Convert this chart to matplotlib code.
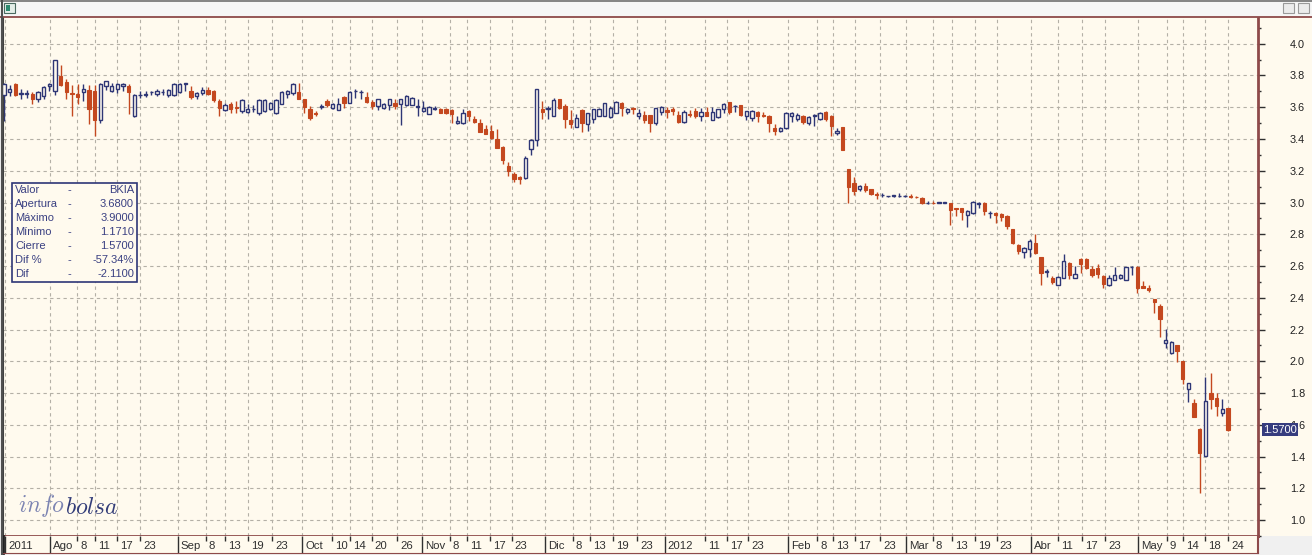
import matplotlib.pyplot as plt
from matplotlib.patches import Rectangle
import numpy as np

W, H = 1312, 555

open_ = [3.680, 3.695, 3.749, 3.686, 3.686, 3.684, 3.649, 3.670, 3.732, 3.701,
         3.799, 3.759, 3.690, 3.684, 3.697, 3.707, 3.701, 3.518, 3.736, 3.705,
         3.718, 3.732, 3.736, 3.545, 3.674, 3.680, 3.695, 3.684, 3.695, 3.680,
         3.674, 3.695, 3.749, 3.701, 3.670, 3.688, 3.711, 3.701, 3.639, 3.582,
         3.622, 3.598, 3.576, 3.572, 3.586, 3.566, 3.576, 3.586, 3.561, 3.622,
         3.686, 3.691, 3.697, 3.649, 3.586, 3.566, 3.603, 3.639, 3.597, 3.582,
         3.664, 3.628, 3.700, 3.695, 3.666, 3.632, 3.605, 3.597, 3.611, 3.628,
         3.618, 3.614, 3.614, 3.603, 3.576, 3.559, 3.591, 3.586, 3.586, 3.580,
         3.499, 3.499, 3.576, 3.524, 3.499, 3.461, 3.451, 3.403, 3.351, 3.232,
         3.180, 3.159, 3.153, 3.336, 3.395, 3.586, 3.591, 3.545, 3.649, 3.607,
         3.520, 3.478, 3.580, 3.493, 3.524, 3.545, 3.545, 3.539, 3.566, 3.628,
         3.570, 3.597, 3.545, 3.549, 3.549, 3.503, 3.568, 3.585, 3.589, 3.552,
         3.509, 3.560, 3.579, 3.543, 3.568, 3.522, 3.537, 3.589, 3.632, 3.605,
         3.615, 3.547, 3.531, 3.573, 3.554, 3.543, 3.467, 3.453, 3.467, 3.547,
         3.526, 3.543, 3.501, 3.546, 3.526, 3.568, 3.543, 3.438, 3.474, 3.211,
         3.126, 3.088, 3.101, 3.084, 3.053, 3.046, 3.038, 3.042, 3.040, 3.040,
         3.043, 3.037, 3.031, 2.996, 3.000, 2.997, 2.997, 2.996, 2.966, 2.965,
         2.924, 2.934, 2.992, 3.000, 2.932, 2.934, 2.928, 2.918, 2.835, 2.732,
         2.691, 2.707, 2.748, 2.656, 2.565, 2.526, 2.480, 2.522, 2.621, 2.526,
         2.645, 2.645, 2.579, 2.588, 2.538, 2.480, 2.511, 2.522, 2.511, 2.593,
         2.594, 2.476, 2.460, 2.395, 2.348, 2.118, 2.051, 2.101, 2.003, 1.828,
         1.740, 1.573, 1.401, 1.803, 1.766, 1.673, 1.703]

high = [3.753, 3.743, 3.753, 3.716, 3.707, 3.693, 3.701, 3.732, 3.753, 3.900,
        3.868, 3.778, 3.743, 3.749, 3.745, 3.743, 3.743, 3.753, 3.768, 3.753,
        3.753, 3.753, 3.749, 3.682, 3.701, 3.701, 3.701, 3.716, 3.716, 3.716,
        3.753, 3.753, 3.750, 3.732, 3.695, 3.726, 3.726, 3.707, 3.649, 3.628,
        3.632, 3.639, 3.649, 3.618, 3.611, 3.649, 3.649, 3.632, 3.649, 3.701,
        3.707, 3.753, 3.753, 3.651, 3.607, 3.576, 3.618, 3.649, 3.628, 3.659,
        3.670, 3.701, 3.716, 3.707, 3.695, 3.645, 3.653, 3.628, 3.653, 3.649,
        3.653, 3.674, 3.666, 3.649, 3.639, 3.607, 3.607, 3.597, 3.597, 3.591,
        3.545, 3.591, 3.580, 3.545, 3.528, 3.486, 3.486, 3.461, 3.357, 3.253,
        3.191, 3.170, 3.295, 3.399, 3.716, 3.639, 3.607, 3.659, 3.650, 3.618,
        3.580, 3.555, 3.586, 3.566, 3.591, 3.597, 3.628, 3.607, 3.639, 3.632,
        3.597, 3.601, 3.591, 3.576, 3.549, 3.597, 3.606, 3.600, 3.600, 3.579,
        3.585, 3.585, 3.594, 3.594, 3.600, 3.600, 3.592, 3.627, 3.632, 3.617,
        3.617, 3.578, 3.585, 3.579, 3.568, 3.552, 3.495, 3.474, 3.568, 3.568,
        3.564, 3.552, 3.543, 3.558, 3.568, 3.579, 3.552, 3.467, 3.474, 3.211,
        3.158, 3.109, 3.126, 3.088, 3.067, 3.059, 3.042, 3.046, 3.059, 3.050,
        3.054, 3.041, 3.033, 3.010, 3.010, 3.000, 3.000, 3.000, 2.966, 2.965,
        2.955, 3.012, 3.006, 3.006, 2.944, 2.938, 2.934, 2.924, 2.835, 2.738,
        2.718, 2.769, 2.800, 2.656, 2.584, 2.536, 2.538, 2.676, 2.625, 2.600,
        2.649, 2.649, 2.600, 2.614, 2.542, 2.542, 2.594, 2.553, 2.596, 2.600,
        2.600, 2.508, 2.480, 2.395, 2.359, 2.202, 2.126, 2.101, 2.003, 1.862,
        1.761, 1.583, 1.904, 1.929, 1.799, 1.761, 1.703]

low = [3.514, 3.670, 3.670, 3.649, 3.657, 3.618, 3.632, 3.649, 3.701, 3.680,
       3.732, 3.649, 3.545, 3.618, 3.639, 3.493, 3.416, 3.499, 3.711, 3.695,
       3.691, 3.701, 3.555, 3.541, 3.659, 3.664, 3.674, 3.670, 3.680, 3.664,
       3.670, 3.690, 3.701, 3.653, 3.649, 3.680, 3.680, 3.634, 3.545, 3.576,
       3.566, 3.566, 3.561, 3.566, 3.572, 3.549, 3.570, 3.582, 3.557, 3.622,
       3.659, 3.680, 3.649, 3.566, 3.520, 3.545, 3.586, 3.603, 3.591, 3.582,
       3.597, 3.624, 3.659, 3.649, 3.628, 3.591, 3.582, 3.591, 3.582, 3.591,
       3.486, 3.607, 3.611, 3.545, 3.570, 3.555, 3.582, 3.561, 3.555, 3.499,
       3.493, 3.493, 3.514, 3.499, 3.441, 3.430, 3.403, 3.341, 3.243, 3.170,
       3.128, 3.118, 3.149, 3.299, 3.353, 3.528, 3.528, 3.545, 3.590, 3.472,
       3.472, 3.478, 3.445, 3.451, 3.499, 3.545, 3.545, 3.534, 3.566, 3.545,
       3.555, 3.555, 3.524, 3.503, 3.445, 3.486, 3.552, 3.531, 3.552, 3.499,
       3.499, 3.537, 3.531, 3.516, 3.543, 3.522, 3.535, 3.564, 3.558, 3.573,
       3.548, 3.522, 3.516, 3.505, 3.537, 3.446, 3.425, 3.442, 3.460, 3.509,
       3.516, 3.495, 3.488, 3.480, 3.522, 3.516, 3.421, 3.425, 3.330, 3.000,
       3.046, 3.074, 3.067, 3.046, 3.025, 3.032, 3.032, 3.032, 3.032, 3.032,
       3.027, 3.027, 2.992, 2.992, 2.992, 2.994, 2.994, 2.856, 2.913, 2.893,
       2.847, 2.930, 2.965, 2.924, 2.903, 2.868, 2.882, 2.835, 2.738, 2.676,
       2.652, 2.656, 2.676, 2.480, 2.532, 2.485, 2.480, 2.522, 2.518, 2.526,
       2.557, 2.579, 2.532, 2.526, 2.464, 2.476, 2.511, 2.518, 2.511, 2.542,
       2.429, 2.460, 2.439, 2.302, 2.156, 2.086, 2.047, 1.996, 1.856, 1.745,
       1.652, 1.171, 1.401, 1.698, 1.657, 1.657, 1.562]

close = [3.749, 3.716, 3.680, 3.688, 3.688, 3.653, 3.697, 3.728, 3.747, 3.899,
         3.743, 3.697, 3.684, 3.664, 3.716, 3.591, 3.518, 3.747, 3.764, 3.736,
         3.749, 3.749, 3.695, 3.680, 3.675, 3.681, 3.696, 3.701, 3.696, 3.711,
         3.749, 3.749, 3.750, 3.666, 3.691, 3.711, 3.686, 3.645, 3.597, 3.611,
         3.586, 3.597, 3.645, 3.591, 3.587, 3.645, 3.645, 3.628, 3.645, 3.697,
         3.701, 3.749, 3.653, 3.601, 3.534, 3.555, 3.604, 3.611, 3.618, 3.622,
         3.628, 3.695, 3.701, 3.696, 3.632, 3.607, 3.649, 3.618, 3.649, 3.607,
         3.649, 3.670, 3.659, 3.604, 3.597, 3.603, 3.592, 3.566, 3.561, 3.555,
         3.514, 3.566, 3.545, 3.507, 3.445, 3.434, 3.409, 3.343, 3.270, 3.201,
         3.149, 3.149, 3.278, 3.395, 3.716, 3.572, 3.592, 3.645, 3.593, 3.524,
         3.493, 3.534, 3.503, 3.561, 3.586, 3.591, 3.624, 3.597, 3.634, 3.597,
         3.591, 3.586, 3.566, 3.520, 3.499, 3.593, 3.600, 3.568, 3.579, 3.505,
         3.568, 3.552, 3.547, 3.568, 3.547, 3.573, 3.589, 3.621, 3.568, 3.606,
         3.552, 3.577, 3.579, 3.547, 3.543, 3.501, 3.453, 3.467, 3.564, 3.564,
         3.552, 3.509, 3.537, 3.547, 3.564, 3.526, 3.484, 3.453, 3.333, 3.095,
         3.074, 3.105, 3.080, 3.053, 3.046, 3.047, 3.039, 3.043, 3.041, 3.041,
         3.033, 3.033, 2.996, 2.998, 2.996, 2.998, 2.998, 2.951, 2.961, 2.938,
         2.944, 3.002, 3.000, 2.944, 2.934, 2.924, 2.909, 2.852, 2.748, 2.697,
         2.713, 2.759, 2.682, 2.559, 2.567, 2.501, 2.532, 2.631, 2.542, 2.553,
         2.614, 2.588, 2.542, 2.553, 2.485, 2.526, 2.542, 2.546, 2.594, 2.594,
         2.460, 2.464, 2.452, 2.374, 2.265, 2.135, 2.122, 2.065, 1.887, 1.862,
         1.652, 1.422, 1.751, 1.761, 1.719, 1.698, 1.570]

month_labels = ['2011', 'Ago', 'Sep', 'Oct', 'Nov', 'Dic', '2012', 'Feb', 'Mar', 'Abr', 'May']
month_pos = [0.2, 8.1, 30.7, 52.6, 73.8, 95.5, 116.6, 138.3, 159.2, 181.2, 200.1]
day_labels = ['8', '11', '17', '23', '8', '13', '19', '23', '10', '14', '20', '26',
              '8', '11', '17', '23', '8', '13', '19', '23', '11', '17', '23',
              '8', '13', '17', '23', '8', '13', '19', '23', '11', '17', '23',
              '9', '14', '18', '24']
day_pos = [12.9, 16.1, 19.9, 24.0, 35.6, 39.0, 43.1, 47.3, 57.9, 61.1, 64.9, 69.4,
           78.7, 81.7, 85.8, 89.6, 100.4, 103.4, 107.5, 111.7, 123.7, 127.6, 131.3,
           143.5, 146.3, 150.2, 154.6, 163.9, 167.3, 171.4, 175.2, 186.0, 190.2, 194.3,
           205.2, 208.1, 211.9, 216.0]
ticker = 'BKIA'

cream = '#fffaee'
navy = '#2e3676'
red = '#c4481f'
frame = '#8e4a4a'

plt.rcParams['font.family'] = ['Liberation Sans', 'DejaVu Sans']
plt.rcParams['mathtext.fontset'] = 'cm'

fig = plt.figure(figsize=(W / 100, H / 100), dpi=100, facecolor='#f0f0f0')


def fx(x):
    return x / W


def fy(y):
    return 1 - y / H


# window background, title bar
fig.patches.append(Rectangle((fx(3), fy(536)), fx(W - 3), (536 - 17) / H,
                             transform=fig.transFigure, fc=cream, ec='none', zorder=-5))
fig.patches.append(Rectangle((0, fy(16)), 1, 16 / H, transform=fig.transFigure,
                             fc='#f6f6f6', ec='none', zorder=-5))
fig.add_artist(plt.Line2D([0, 1], [fy(0.5), fy(0.5)], color='#707070', lw=1.2))
fig.add_artist(plt.Line2D([0, 1], [fy(16.5), fy(16.5)], color=frame, lw=1.3))
fig.add_artist(plt.Line2D([fx(1.5), fx(1.5)], [0, 1], color='#505050', lw=1.5))
fig.patches.append(Rectangle((fx(4), fy(13)), 11 / W, 10 / H, transform=fig.transFigure,
                             fc='#e4eee8', ec='#4a6a60', lw=0.8))
fig.patches.append(Rectangle((fx(6), fy(11)), 4 / W, 6 / H, transform=fig.transFigure,
                             fc='#2e8a70', ec='none'))
for bx in [1283, 1298]:
    fig.patches.append(Rectangle((fx(bx), fy(13)), 11 / W, 10 / H, transform=fig.transFigure,
                                 fc='#ececec', ec='#9a9a9a', lw=0.8))

ax = fig.add_axes([fx(3), fy(536), (1258 - 3) / W, (536 - 18) / H])
ax.set_facecolor(cream)
ax.set_xlim(-0.18, 221.3)
ax.set_ylim(0.904, 4.162)

x = np.arange(len(close))
o = np.array(open_)
c = np.array(close)
hi = np.array(high)
lo = np.array(low)
up = c >= o
body = np.maximum(np.abs(c - o), 0.004)

ax.vlines(x[up], lo[up], hi[up], color=navy, lw=1, zorder=2)
ax.vlines(x[~up], lo[~up], hi[~up], color=red, lw=1, zorder=2)
ax.bar(x[up], body[up], bottom=o[up], width=0.6, facecolor=cream, edgecolor=navy,
       linewidth=1, zorder=3)
ax.bar(x[~up], body[~up], bottom=c[~up], width=0.6, facecolor=red, edgecolor=red,
       linewidth=0.8, zorder=3)

ax.set_xticks(month_pos + day_pos)
ax.tick_params(axis='x', length=0, labelbottom=False)
ax.yaxis.tick_right()
ax.set_yticks(np.arange(1.0, 4.01, 0.2))
ax.set_yticks(np.arange(0.9, 4.15, 0.1), minor=True)
ax.set_yticklabels(['%.1f' % v for v in np.arange(1.0, 4.01, 0.2)])
ax.tick_params(axis='y', which='major', direction='out', length=5, width=1,
               color='#303030', pad=18, labelsize=7.8, labelcolor='#202020')
ax.tick_params(axis='y', which='minor', direction='out', length=2, width=1, color='#303030')
ax.set_axisbelow(True)
ax.grid(True, which='major', color='#b4b0a6', linestyle=(0, (3, 3)), linewidth=0.8)
ax.spines['top'].set_visible(False)
ax.spines['left'].set_color('#404040')
ax.spines['left'].set_linewidth(1.5)
ax.spines['right'].set_color(frame)
ax.spines['right'].set_linewidth(2)
ax.spines['bottom'].set_color(frame)
ax.spines['bottom'].set_linewidth(2)

# date strip
axb = fig.add_axes([fx(3), fy(553), (1258 - 3) / W, (553 - 536) / H])
axb.set_facecolor(cream)
axb.set_xlim(ax.get_xlim())
axb.set_ylim(0, 1)
axb.set_xticks([])
axb.set_yticks([])
axb.spines['top'].set_visible(False)
axb.spines['bottom'].set_color(frame)
axb.spines['left'].set_color('#202020')
axb.spines['left'].set_linewidth(2)
axb.spines['right'].set_color(frame)
axb.spines['right'].set_linewidth(1.5)
axb.vlines(month_pos, 0, 1, color='#303030', lw=1)
axb.vlines(day_pos, 0.72, 1, color='#303030', lw=1)
for lab, p in zip(month_labels + day_labels, month_pos + day_pos):
    axb.annotate(lab, (p, 0.42), xycoords=('data', 'axes fraction'), xytext=(3, 0),
                 textcoords='offset pixels', ha='left', va='center', fontsize=8.2,
                 color='#303030')

# info box
fig.patches.append(Rectangle((fx(12), fy(282)), (137 - 12) / W, (282 - 183) / H,
                             transform=fig.transFigure, fc=cream, ec=navy, lw=1.2))
dif = close[-1] - open_[0]
names = ['Valor', 'Apertura', 'Máximo', 'Mínimo', 'Cierre', 'Dif %', 'Dif']
values = [ticker, '%.4f' % open_[0], '%.4f' % max(high), '%.4f' % min(low),
          '%.4f' % close[-1], '%.2f%%' % (100 * dif / open_[0]), '%.4f' % dif]
for i, (n, v) in enumerate(zip(names, values)):
    yy = fy(190 + 14 * i)
    fig.text(fx(15), yy, n, fontsize=8, color='#3a4082', va='center')
    fig.text(fx(67), yy, '-', fontsize=8, color='#3a4082', va='center')
    fig.text(fx(134), yy, v, fontsize=8, color='#3a4082', va='center', ha='right')

# logo
t1 = fig.text(fx(18), fy(519), r'$info$', fontsize=17, color='#7c84b2', va='bottom')
ax.annotate(r'$bolsa$', xy=(1, 0), xycoords=t1, va='bottom', ha='left',
            fontsize=17, color='#323c78', annotation_clip=False, zorder=6)

# last price tag
ax.annotate('%.4f' % close[-1], xy=(1, close[-1]), xycoords=('axes fraction', 'data'),
            xytext=(5, 0), textcoords='offset pixels', ha='left', va='center',
            fontsize=8, color='white', annotation_clip=False, zorder=6,
            bbox=dict(boxstyle='square,pad=0.12', fc='#363c7e', ec='none'))

fig.savefig('out.png', dpi=100, facecolor=fig.get_facecolor())
